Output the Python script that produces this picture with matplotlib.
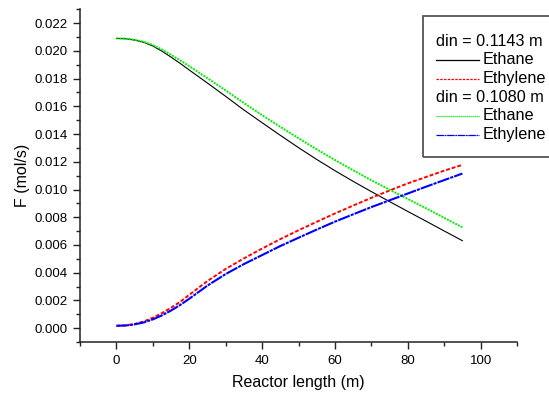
import numpy as np
import matplotlib
matplotlib.use('Agg')
import matplotlib.pyplot as plt
from matplotlib.lines import Line2D
from matplotlib.patches import Rectangle
from matplotlib.ticker import MultipleLocator, FormatStrFormatter

plt.rcParams['font.family'] = ['Liberation Sans', 'DejaVu Sans']

# donnees
z = [0, 2.5, 5, 7.5, 10, 12.5, 15, 17.5, 20, 25, 30, 35, 40, 45, 50, 55, 60, 65, 70, 75,
     80, 85, 90, 95]

ethane_1143 = [0.02090, 0.02088, 0.02078, 0.02062, 0.02035, 0.01998, 0.01955, 0.01910,
               0.01862, 0.01768, 0.01672, 0.01574, 0.01482, 0.01391, 0.01302, 0.01217,
               0.01136, 0.01059, 0.00985, 0.00913, 0.00842, 0.00772, 0.00701, 0.00631]
ethylene_1143 = [0.00017, 0.00020, 0.00030, 0.00048, 0.00075, 0.00108, 0.00147, 0.00190,
                 0.00240, 0.00340, 0.00427, 0.00503, 0.00574, 0.00642, 0.00706, 0.00767,
                 0.00827, 0.00884, 0.00940, 0.00993, 0.01044, 0.01090, 0.01136, 0.01178]
ethane_1080 = [0.02090, 0.02088, 0.02080, 0.02066, 0.02042, 0.02010, 0.01972, 0.01932,
               0.01890, 0.01803, 0.01715, 0.01624, 0.01537, 0.01452, 0.01370, 0.01290,
               0.01213, 0.01139, 0.01067, 0.00999, 0.00932, 0.00865, 0.00796, 0.00727]
ethylene_1080 = [0.00017, 0.00019, 0.00027, 0.00041, 0.00063, 0.00092, 0.00127, 0.00167,
                 0.00212, 0.00307, 0.00390, 0.00462, 0.00527, 0.00592, 0.00652, 0.00711,
                 0.00768, 0.00821, 0.00873, 0.00922, 0.00971, 0.01020, 0.01068, 0.01115]

titres = ['din = 0.1143 m', 'din = 0.1080 m']
noms = ['Ethane', 'Ethylene']

W, H = 549, 396
fig = plt.figure(figsize=(W / 100, H / 100), dpi=100)
ax = fig.add_axes([80 / W, 1 - 342 / H, (517 - 80) / W, (342 - 9.3) / H])

styles = [
    (ethane_1143, dict(color='black', ls='-', lw=0.8)),
    (ethylene_1143, dict(color='red', ls=(0, (2, 1)), lw=1.4)),
    (ethane_1080, dict(color='#00ee00', ls=(0, (1, 0.6)), lw=1.4)),
    (ethylene_1080, dict(color='blue', ls=(0, (6, 0.5, 1.5, 0.5)), lw=1.5)),
]
for y, st in styles:
    ax.plot(z, y, **st)

ax.set_xlim(-10, 110)
ax.set_ylim(-0.001, 0.023)
ax.xaxis.set_major_locator(MultipleLocator(20))
ax.xaxis.set_minor_locator(MultipleLocator(10))
ax.yaxis.set_major_locator(MultipleLocator(0.002))
ax.yaxis.set_minor_locator(MultipleLocator(0.001))
ax.yaxis.set_major_formatter(FormatStrFormatter('%.3f'))
ax.spines['top'].set_visible(False)
ax.spines['right'].set_visible(False)
for s in ['left', 'bottom']:
    ax.spines[s].set_linewidth(1.1)
    ax.spines[s].set_color('#222222')
ax.tick_params(which='major', length=5, width=1.0, labelsize=9.5, pad=4, color='#222222')
ax.tick_params(which='minor', length=3, width=1.0, color='#222222')

ax.set_xlabel('Reactor length (m)', fontsize=11.5, labelpad=6)
ax.set_ylabel('F (mol/s)', fontsize=11.5, labelpad=3)

# legende style Origin
def px(x, y):
    return x / W, 1 - y / H

x0, y0 = px(423, 157)
fig.patches.append(Rectangle((x0, y0), (551 - 423) / W, (157 - 16) / H,
                             transform=fig.transFigure, fill=False,
                             edgecolor='#555555', lw=1.3, clip_on=False))
rows = [41, 60, 79, 97.5, 116, 134.5]
k = 0
for i, titre in enumerate(titres):
    fig.text(*px(436, rows[k]), titre, fontsize=11.7, va='center', ha='left')
    k += 1
    for j, nom in enumerate(noms):
        st = styles[2 * i + j][1]
        xa, ya = px(436, rows[k])
        xb, _ = px(479, rows[k])
        fig.lines.append(Line2D([xa, xb], [ya, ya], transform=fig.transFigure,
                                color=st['color'], ls=st['ls'], lw=0.9))
        fig.text(*px(483, rows[k]), nom, fontsize=11.7, va='center', ha='left')
        k += 1

fig.savefig('out.png', dpi=100)
